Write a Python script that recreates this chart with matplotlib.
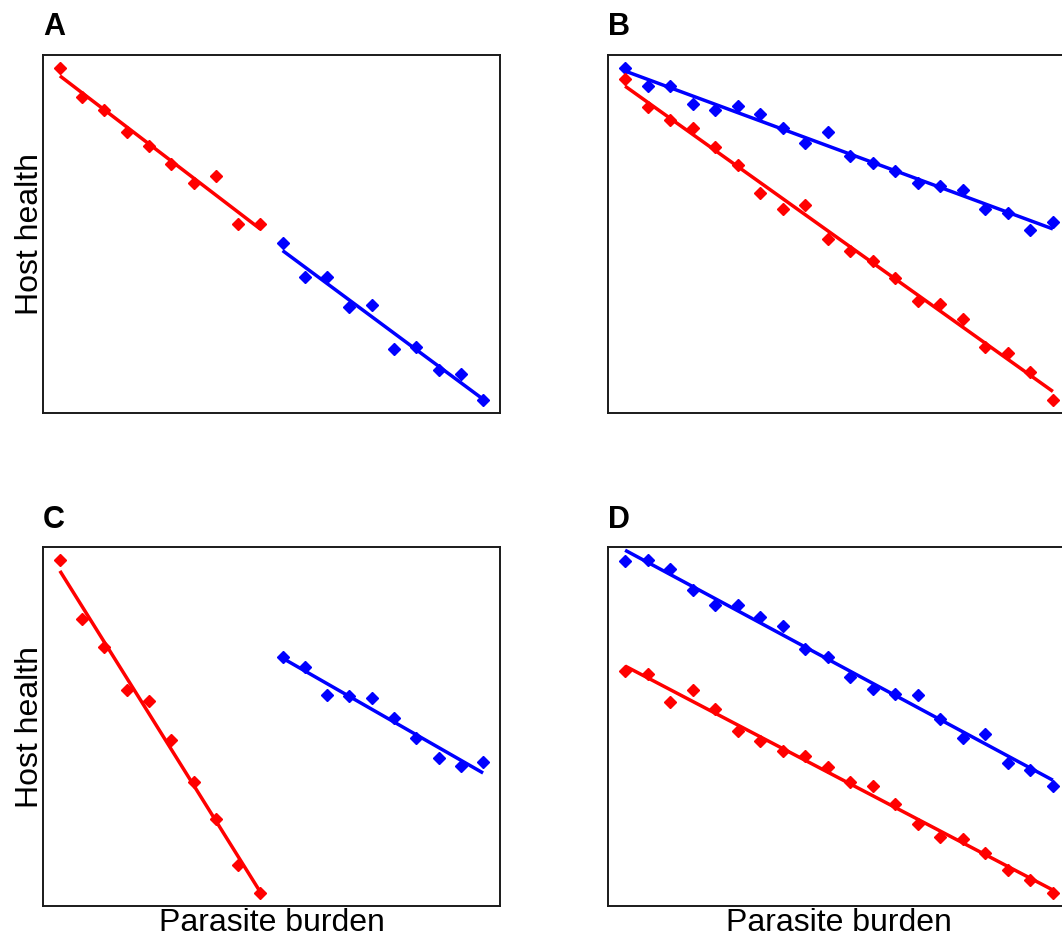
import numpy as np
import matplotlib
matplotlib.use("Agg")
import matplotlib.pyplot as plt

plt.rcParams['font.family'] = ['Liberation Sans', 'DejaVu Sans']

# ---------------- data (host health vs parasite burden) ----------------
# Panel A: two non-overlapping groups, similar slope
a_red_x = list(range(0, 10))
a_red_y = [104.5, 95.8, 91.8, 85.2, 80.9, 75.5, 69.7, 71.8, 57.3, 57.3]
a_blue_x = list(range(10, 20))
a_blue_y = [51.8, 41.5, 41.5, 32.4, 33.0, 19.7, 20.3, 13.6, 12.1, 4.5]

# Panel B: same burden range, different slopes
b_x = list(range(0, 20))
b_blue_y = [104.5, 99.1, 99.1, 93.6, 91.8, 93.0, 90.6, 86.3, 81.9, 85.1,
            77.9, 75.8, 73.4, 69.8, 68.8, 67.6, 62.0, 60.8, 55.5, 58.0]
b_red_y = [101.1, 92.8, 88.8, 86.3, 80.7, 75.2, 66.8, 62.0, 63.3, 52.9,
           49.4, 46.2, 41.3, 34.2, 33.4, 28.7, 20.3, 18.6, 13.0, 4.5]

# Panel C: non-overlapping groups, different slopes
c_red_x = list(range(0, 10))
c_red_y = [104.7, 87.0, 78.6, 65.8, 62.5, 50.7, 38.0, 26.9, 13.0, 4.7]
c_blue_x = list(range(10, 20))
c_blue_y = [75.7, 72.6, 64.1, 63.8, 63.3, 57.2, 51.2, 45.1, 42.9, 43.9]

# Panel D: same burden range, parallel lines with offset
d_x = list(range(0, 20))
d_blue_y = [104.5, 104.7, 102.0, 95.6, 91.3, 91.1, 87.5, 85.0, 77.9, 75.4,
            69.5, 65.8, 64.5, 64.1, 57.0, 51.2, 52.4, 43.6, 41.6, 36.8]
d_red_y = [71.2, 70.5, 62.1, 65.6, 59.8, 53.2, 50.2, 47.1, 45.6, 42.3,
           37.8, 36.8, 31.2, 25.1, 21.4, 20.8, 16.6, 11.3, 8.2, 4.5]

panel_labels = ["A", "B", "C", "D"]
RED = "#FF0000"
BLUE = "#0000FF"

W, H = 1062, 936
fig = plt.figure(figsize=(W / 100, H / 100), dpi=100)

# axes boxes in pixels: (left, top, width, height)
boxes = [(43, 54.5, 457, 358.5), (608, 54.5, 462, 358.5),
         (43, 547, 457, 359), (608, 547, 462, 359)]

panels = [
    [(a_red_x, a_red_y, RED), (a_blue_x, a_blue_y, BLUE)],
    [(b_x, b_blue_y, BLUE), (b_x, b_red_y, RED)],
    [(c_red_x, c_red_y, RED), (c_blue_x, c_blue_y, BLUE)],
    [(d_x, d_blue_y, BLUE), (d_x, d_red_y, RED)],
]

for i, (box, series) in enumerate(zip(boxes, panels)):
    l, t, w, h = box
    ax = fig.add_axes([l / W, 1 - (t + h) / H, w / W, h / H])
    allx, ally = [], []
    for xs, ys, col in series:
        xs = np.asarray(xs, float)
        ys = np.asarray(ys, float)
        allx.extend(xs)
        ally.extend(ys)
        ax.plot(xs, ys, linestyle='none', marker='D', ms=5.8, mew=1,
                color=col, zorder=3)
        k, b0 = np.polyfit(xs, ys, 1)
        xl = np.array([xs.min(), xs.max()])
        ax.plot(xl, k * xl + b0, color=col, lw=2.5, zorder=2,
                solid_capstyle='butt')
    # R-style axis limits: data range + 4%
    xmin, xmax = min(allx), max(allx)
    ymin, ymax = min(ally), max(ally)
    dx, dy = (xmax - xmin) * 0.04, (ymax - ymin) * 0.04
    ax.set_xlim(xmin - dx, xmax + dx)
    ax.set_ylim(ymin - dy, ymax + dy)
    ax.set_xticks([])
    ax.set_yticks([])
    for sp in ax.spines.values():
        sp.set_linewidth(1.4)
        sp.set_color("#1a1a1a")
    ax.text(0, 1 + 19.5 / h, panel_labels[i], transform=ax.transAxes,
            ha='left', va='baseline', fontsize=22, fontweight='bold')
    if i in (0, 2):
        ax.set_ylabel("Host health", fontsize=23, rotation=90,
                      rotation_mode='anchor', ha='center', va='baseline')
        ax.yaxis.set_label_coords(-5 / w, 0.5)
    if i in (2, 3):
        ax.set_xlabel("Parasite burden", fontsize=23, va='baseline')
        ax.xaxis.set_label_coords(0.5, -25 / h)

fig.savefig("out.png", dpi=100)
